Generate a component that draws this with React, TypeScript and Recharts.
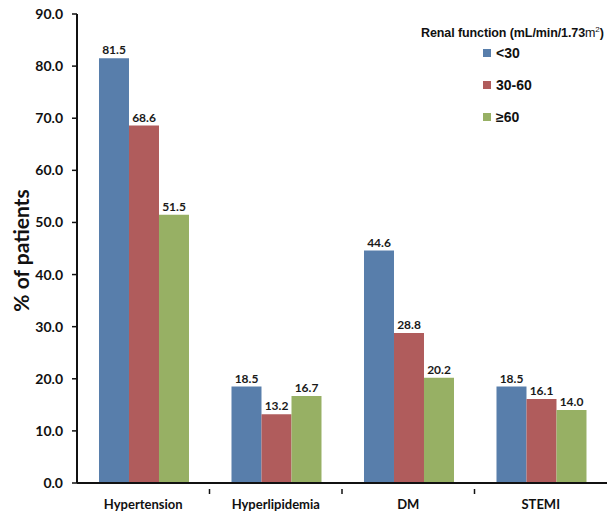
import { BarChart, Bar, XAxis, YAxis, Legend, LabelList } from 'recharts';

const categories = ['Hypertension', 'Hyperlipidemia', 'DM', 'STEMI'];
const below30 = [81.5, 18.5, 44.6, 18.5];
const from30to60 = [68.6, 13.2, 28.8, 16.1];
const above60 = [51.5, 16.7, 20.2, 14.0];
const yTicks = [0, 10, 20, 30, 40, 50, 60, 70, 80, 90];

const seriesNames = ['<30', '30-60', '≥60'];
const colors = ['#587EAB', '#B05C5C', '#97B064'];

const data = categories.map((name, i) => ({
  name,
  below30: below30[i],
  from30to60: from30to60[i],
  above60: above60[i],
}));

const axisFont = 'Lato, "Open Sans", sans-serif';
const legendFont = '"Liberation Sans", Arial, sans-serif';

function LegendBox() {
  return (
    <div style={{ position: 'relative', width: 614, height: 130, fontFamily: legendFont, color: '#111' }}>
      <div
        style={{
          position: 'absolute',
          left: 421,
          top: 25,
          fontSize: 12.5,
          fontWeight: 700,
          whiteSpace: 'nowrap',
          letterSpacing: -0.1,
        }}
      >
        Renal function (mL/min/1.73<span style={{ fontWeight: 400 }}>m</span>
        <sup style={{ fontSize: 8, fontWeight: 400 }}>2</sup>)
      </div>
      {seriesNames.map((name, i) => (
        <div
          key={name}
          style={{
            position: 'absolute',
            left: 483,
            top: 45 + i * 32,
            display: 'flex',
            alignItems: 'center',
            fontSize: 14,
            fontWeight: 700,
          }}
        >
          <span style={{ display: 'inline-block', width: 8, height: 8, background: colors[i], marginRight: 5 }} />
          {name}
        </div>
      ))}
    </div>
  );
}

// category label plus a small tick at the right edge of each band (Excel style)
function CategoryTick({ x, y, payload, index }: any) {
  const half = payload?.offset ?? 0;
  const axisY = y - 11;
  return (
    <g>
      {index < categories.length - 1 && (
        <line x1={x + half} x2={x + half} y1={axisY} y2={axisY + 5} stroke="#111" strokeWidth={1.5} />
      )}
      <text
        x={x}
        y={y}
        dy="0.71em"
        textAnchor="middle"
        style={{ fontFamily: axisFont, fontSize: 13, fontWeight: 700, fill: '#111' }}
      >
        {payload.value}
      </text>
    </g>
  );
}

function YTitle({ viewBox }: any) {
  const cx = 20;
  const cy = viewBox.y + viewBox.height / 2 + 2;
  return (
    <text
      x={cx}
      y={cy}
      transform={`rotate(-90, ${cx}, ${cy})`}
      textAnchor="middle"
      dominantBaseline="central"
      style={{ fontFamily: axisFont, fontSize: 21, fontWeight: 700, fill: '#111' }}
    >
      % of patients
    </text>
  );
}

export default function App() {
  const labelStyle = { fontFamily: axisFont, fontSize: 12, fontWeight: 700, fill: '#1a1a1a' };
  return (
    <div style={{ position: 'absolute', top: 0, left: 0, width: 614, height: 511 }}>
      <BarChart
        width={614}
        height={511}
        data={data}
        margin={{ top: 14, right: 7, left: 0, bottom: 0 }}
        barCategoryGap="16.6%"
        barGap={0}
      >
        <XAxis
          dataKey="name"
          height={28}
          tickLine={false}
          tickMargin={11}
          axisLine={{ stroke: '#111', strokeWidth: 2 }}
          tick={<CategoryTick />}
          interval={0}
        />
        <YAxis
          width={77}
          domain={[0, 90]}
          ticks={yTicks}
          interval={0}
          tickSize={5}
          tickMargin={9}
          tickFormatter={(v: number) => v.toFixed(1)}
          axisLine={{ stroke: '#111', strokeWidth: 2 }}
          tickLine={{ stroke: '#111', strokeWidth: 1.5 }}
          tick={{ fontFamily: axisFont, fontSize: 14, fontWeight: 700, fill: '#111' }}
          label={<YTitle />}
        />
        <Legend
          layout="vertical"
          align="center"
          verticalAlign="middle"
          wrapperStyle={{ top: 0, left: 0, width: 614 }}
          content={<LegendBox />}
        />
        {(['below30', 'from30to60', 'above60'] as const).map((key, i) => (
          <Bar key={key} dataKey={key} name={seriesNames[i]} fill={colors[i]} isAnimationActive={false}>
            <LabelList
              dataKey={key}
              position="top"
              offset={4}
              formatter={(v: any) => Number(v).toFixed(1)}
              style={labelStyle}
            />
          </Bar>
        ))}
      </BarChart>
    </div>
  );
}
